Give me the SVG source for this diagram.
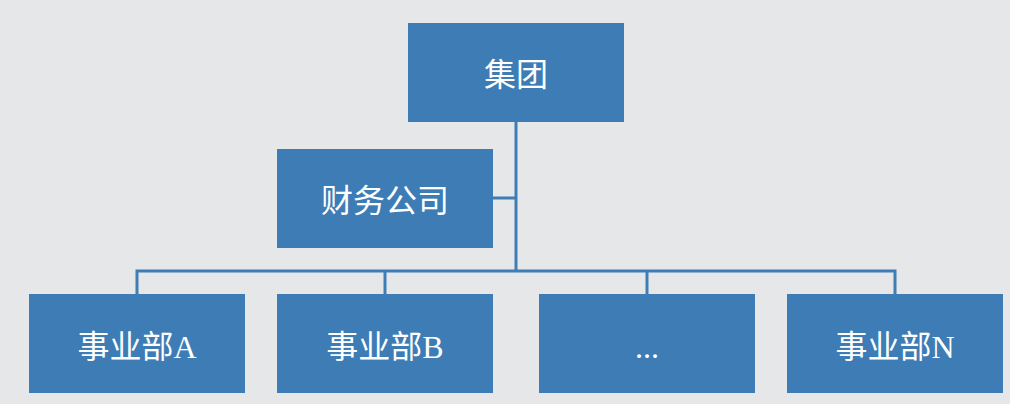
<svg xmlns="http://www.w3.org/2000/svg" width="1010" height="404" viewBox="0 0 1010 404">
<style>
.box{fill:#3d7cb5}
.lbl{fill:#ffffff;font-family:"Liberation Serif","Noto Sans CJK SC",serif;font-size:32px;text-anchor:middle}
.ln{stroke:#3f7db6;stroke-width:3;fill:none}
</style>
<rect width="1010" height="404" fill="#e6e7e9"/>
<g id="connectors">
<path class="ln" d="M516 122 V271"/>
<path class="ln" d="M493 198 H516"/>
<path class="ln" d="M137 294 V271 H895 V294"/>
<path class="ln" d="M385 271 V294"/>
<path class="ln" d="M647 271 V294"/>
</g>
<g id="group"><rect class="box" x="408" y="23" width="216" height="99"/><text class="lbl" x="516" y="86">集团</text></g>
<g id="finance"><rect class="box" x="277" y="149" width="216" height="99"/><text class="lbl" x="385" y="212">财务公司</text></g>
<g id="divA"><rect class="box" x="29" y="294" width="216" height="99"/><text class="lbl" x="137" y="358">事业部A</text></g>
<g id="divB"><rect class="box" x="277" y="294" width="216" height="99"/><text class="lbl" x="385" y="358">事业部B</text></g>
<g id="divEtc"><rect class="box" x="539" y="294" width="216" height="99"/><text class="lbl" x="647" y="358">...</text></g>
<g id="divN"><rect class="box" x="787" y="294" width="216" height="99"/><text class="lbl" x="895" y="358">事业部N</text></g>
</svg>
